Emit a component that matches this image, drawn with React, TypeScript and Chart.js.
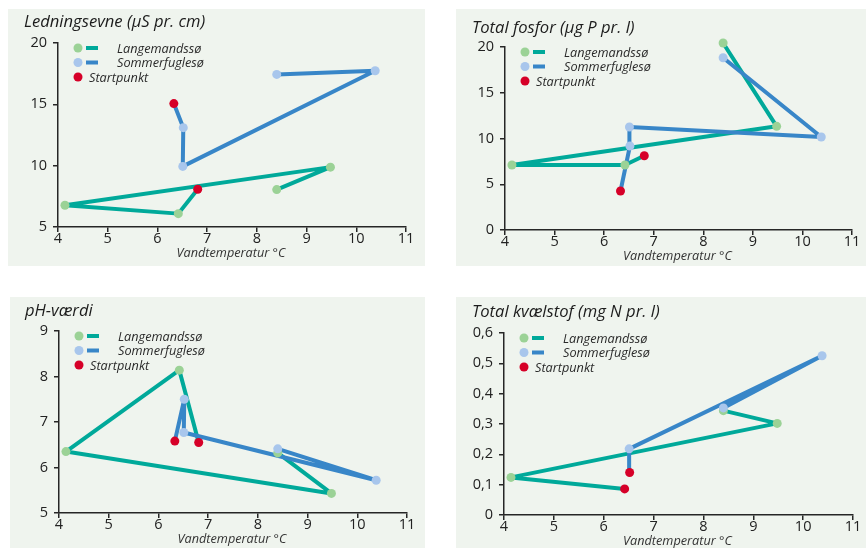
import React, { useEffect, useRef } from 'react';
import { Chart, registerables } from 'chart.js';

Chart.register(...registerables);

// Water temperature (°C) at each sampling, in time order
const langTemp = [6.81, 6.42, 4.14, 9.48, 8.4];
const sommTemp = [6.33, 6.52, 6.51, 10.38, 8.4];

// Ledningsevne (µS pr. cm)
const langLedning = [8.08, 6.09, 6.77, 9.88, 8.05];
const sommLedning = [15.06, 13.1, 9.94, 17.74, 17.44];
// Total fosfor (µg P pr. l)
const langFosfor = [8.12, 7.1, 7.1, 11.33, 20.44];
const sommFosfor = [4.26, 9.18, 11.26, 10.16, 18.83];
// pH-værdi
const langPH = [6.55, 8.14, 6.35, 5.43, 6.32];
const sommPH = [6.58, 7.5, 6.77, 5.72, 6.41];
// Total kvælstof (mg N pr. l) – first sampling missing
const langKvaelstof = [null, 0.086, 0.124, 0.302, 0.344];
const sommKvaelstof = [null, 0.14, 0.218, 0.525, 0.353];

const xTicks = [4, 5, 6, 7, 8, 9, 10, 11];
const ledningTicks = [5, 10, 15, 20];
const fosforTicks = [0, 5, 10, 15, 20];
const phTicks = [5, 6, 7, 8, 9];
const kvaelstofTicks = [0, 0.1, 0.2, 0.3, 0.4, 0.5, 0.6];
const kvaelstofLabels = ['0', '0,1', '0,2', '0,3', '0,4', '0,5', '0,6'];

const seriesNames = ['Langemandssø', 'Sommerfuglesø', 'Startpunkt'];
const xTitle = 'Vandtemperatur °C';

const C = {
  bg: '#eff4ee',
  teal: '#00a99a',
  blue: '#3886c8',
  green: '#9bd296',
  lightBlue: '#a8c6ec',
  red: '#d60028',
  axis: '#262626',
  text: '#1c1c1c',
};

type PanelCfg = {
  title: string;
  lang: (number | null)[];
  somm: (number | null)[];
  yTicks: number[];
  yLabels?: string[];
  panel: { left: number; top: number; w: number; h: number };
  plot: { l: number; r: number; t: number; b: number };
  titlePos: { x: number; y: number };
};

const panels: PanelCfg[] = [
  {
    title: 'Ledningsevne (µS pr. cm)',
    lang: langLedning,
    somm: sommLedning,
    yTicks: ledningTicks,
    panel: { left: 8, top: 9, w: 417, h: 257 },
    plot: { l: 58, r: 406, t: 43, b: 227 },
    titlePos: { x: 24, y: 27 },
  },
  {
    title: 'Total fosfor (µg P pr. l)',
    lang: langFosfor,
    somm: sommFosfor,
    yTicks: fosforTicks,
    panel: { left: 456, top: 9, w: 410, h: 257 },
    plot: { l: 505, r: 852, t: 47, b: 230 },
    titlePos: { x: 472, y: 33 },
  },
  {
    title: 'pH-værdi',
    lang: langPH,
    somm: sommPH,
    yTicks: phTicks,
    panel: { left: 10, top: 297, w: 415, h: 251 },
    plot: { l: 59, r: 407, t: 331, b: 513 },
    titlePos: { x: 25, y: 316 },
  },
  {
    title: 'Total kvælstof (mg N pr. l)',
    lang: langKvaelstof,
    somm: sommKvaelstof,
    yTicks: kvaelstofTicks,
    yLabels: kvaelstofLabels,
    panel: { left: 456, top: 297, w: 410, h: 251 },
    plot: { l: 504, r: 853, t: 333, b: 515 },
    titlePos: { x: 472, y: 317 },
  },
];

function toPoints(temps: number[], vals: (number | null)[]) {
  return temps.map((x, i) => ({ x, y: vals[i] }));
}

function pointColors(vals: (number | null)[], normal: string) {
  const first = vals.findIndex((v) => v !== null);
  return vals.map((_, i) => (i === first ? C.red : normal));
}

const textPlugin = {
  id: 'panelText',
  afterDraw(chart: any, _args: any, opts: any) {
    const { ctx, chartArea } = chart;
    ctx.save();
    // title
    ctx.fillStyle = C.text;
    ctx.textAlign = 'left';
    ctx.textBaseline = 'alphabetic';
    ctx.font = 'italic 16.6px "Open Sans"';
    ctx.fillText(opts.title, opts.titleX, opts.titleY);

    // legend
    const lx = chartArea.left + 20;
    const ly = chartArea.top + 5;
    const rows = [
      { dot: C.green, line: C.teal, text: seriesNames[0] },
      { dot: C.lightBlue, line: C.blue, text: seriesNames[1] },
      { dot: C.red, line: null, text: seriesNames[2] },
    ];
    ctx.font = 'italic 12.7px "Open Sans"';
    rows.forEach((r, i) => {
      const y = ly + i * 14.5;
      ctx.fillStyle = r.dot;
      ctx.beginPath();
      ctx.arc(lx, y, 4.5, 0, Math.PI * 2);
      ctx.fill();
      if (r.line) {
        ctx.fillStyle = r.line;
        ctx.fillRect(lx + 8, y - 2, 12, 4);
      }
      ctx.fillStyle = '#2a2a2a';
      ctx.fillText(r.text, r.line ? lx + 39 : lx + 11, y + 4.5);
    });

    // x title
    ctx.font = 'italic 12.7px "Open Sans"';
    ctx.textAlign = 'center';
    ctx.fillStyle = '#333';
    ctx.fillText(xTitle, (chartArea.left + chartArea.right) / 2 - 1, chartArea.bottom + 30);
    ctx.restore();
  },
};

function Panel({ cfg }: { cfg: PanelCfg }) {
  const ref = useRef<HTMLCanvasElement>(null);
  const { panel, plot } = cfg;
  useEffect(() => {
    if (!ref.current) return;
    const yW = plot.l - panel.left;
    const xH = panel.top + panel.h - plot.b;
    const padTop = plot.t - panel.top;
    const padRight = panel.left + panel.w - plot.r;
    const yMin = cfg.yTicks[0];
    const yMax = cfg.yTicks[cfg.yTicks.length - 1];
    const chart = new Chart(ref.current, {
      type: 'scatter',
      data: {
        datasets: [
          {
            label: seriesNames[0],
            data: toPoints(langTemp, cfg.lang),
            showLine: true,
            borderColor: C.teal,
            borderWidth: 4,
            pointRadius: 0,
            borderJoinStyle: 'round',
            clip: false,
            order: 4,
          },
          {
            label: seriesNames[1],
            data: toPoints(sommTemp, cfg.somm),
            showLine: true,
            borderColor: C.blue,
            borderWidth: 4,
            pointRadius: 0,
            borderJoinStyle: 'round',
            clip: false,
            order: 3,
          },
          {
            label: seriesNames[0] + ' punkter',
            data: toPoints(langTemp, cfg.lang),
            showLine: false,
            pointRadius: 4.5,
            pointBorderWidth: 0,
            pointBackgroundColor: pointColors(cfg.lang, C.green),
            clip: false,
            order: 2,
          },
          {
            label: seriesNames[1] + ' punkter',
            data: toPoints(sommTemp, cfg.somm),
            showLine: false,
            pointRadius: 4.5,
            pointBorderWidth: 0,
            pointBackgroundColor: pointColors(cfg.somm, C.lightBlue),
            clip: false,
            order: 1,
          },
        ] as any,
      },
      options: {
        animation: false,
        responsive: false,
        events: [],
        layout: { padding: { top: padTop, right: padRight, left: 0, bottom: 0 } },
        plugins: {
          legend: { display: false },
          tooltip: { enabled: false },
          panelText: { title: cfg.title, titleX: cfg.titlePos.x - panel.left, titleY: cfg.titlePos.y - panel.top },
        } as any,
        scales: {
          x: {
            type: 'linear',
            min: xTicks[0],
            max: xTicks[xTicks.length - 1],
            afterBuildTicks: (s: any) => {
              s.ticks = xTicks.map((v) => ({ value: v }));
            },
            afterFit: (s: any) => {
              s.height = xH;
            },
            grid: { display: true, drawOnChartArea: false, drawTicks: true, tickLength: 5, color: C.axis, lineWidth: 1.5 },
            border: { display: true, color: C.axis, width: 1.5 },
            ticks: {
              padding: 0,
              color: '#222',
              font: { family: 'Open Sans', size: 14.5, lineHeight: 1 },
              callback: (v: any) => String(v),
            },
          },
          y: {
            type: 'linear',
            min: yMin,
            max: yMax,
            afterBuildTicks: (s: any) => {
              s.ticks = cfg.yTicks.map((v) => ({ value: v }));
            },
            afterFit: (s: any) => {
              s.width = yW;
            },
            grid: { display: true, drawOnChartArea: false, drawTicks: true, tickLength: 5, color: C.axis, lineWidth: 1.5 },
            border: { display: true, color: C.axis, width: 1.5 },
            ticks: {
              padding: 6,
              color: '#222',
              font: { family: 'Open Sans', size: 14.5, lineHeight: 1 },
              callback: (v: any) => {
                const i = cfg.yTicks.findIndex((t) => Math.abs(t - v) < 1e-9);
                if (cfg.yLabels && i >= 0) return cfg.yLabels[i];
                return String(v);
              },
            },
          },
        },
      } as any,
      plugins: [textPlugin],
    });
    return () => chart.destroy();
  }, []);
  return (
    <div
      style={{
        position: 'absolute',
        left: panel.left,
        top: panel.top,
        width: panel.w,
        height: panel.h,
        background: C.bg,
      }}
    >
      <canvas ref={ref} width={panel.w} height={panel.h} style={{ display: 'block', width: panel.w, height: panel.h }} />
    </div>
  );
}

export default function App() {
  return (
    <div style={{ position: 'absolute', left: 0, top: 0, width: 866, height: 548, background: '#fff', overflow: 'hidden' }}>
      {panels.map((p, i) => (
        <Panel key={i} cfg={p} />
      ))}
    </div>
  );
}
